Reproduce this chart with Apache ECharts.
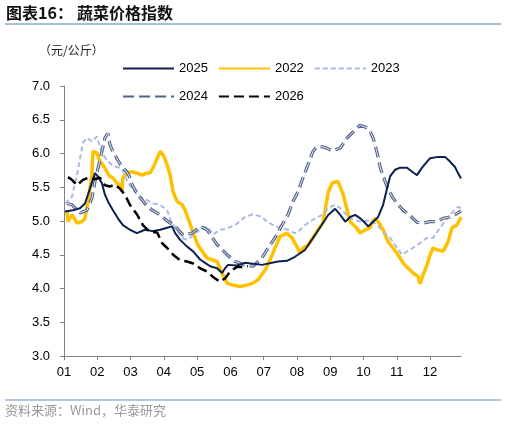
<!DOCTYPE html>
<html>
<head>
<meta charset="utf-8">
<script src="https://cdn.jsdelivr.net/npm/echarts@6/dist/echarts.min.js"></script>
<style>
  html, body { margin: 0; padding: 0; background: #fff; }
  #chart { width: 506px; height: 424px; }
</style>
</head>
<body>
<div id="chart"></div>
<script>
// x = 月份位置(0 = 1月初, 11 = 12月初), y = 元/公斤
var monthLabels = ['01','02','03','04','05','06','07','08','09','10','11','12'];

var s2025 = [[0.03,5.14],[0.09,5.16],[0.27,5.16],[0.48,5.19],[0.63,5.26],[0.78,5.48],[0.93,5.71],[1.02,5.66],[1.14,5.56],[1.23,5.39],[1.32,5.29],[1.47,5.16],[1.62,5.04],[1.77,4.94],[1.98,4.87],[2.19,4.82],[2.43,4.87],[2.65,4.85],[2.89,4.87],[3.10,4.90],[3.25,4.92],[3.34,4.82],[3.49,4.72],[3.70,4.62],[3.88,4.55],[4.09,4.43],[4.24,4.38],[4.39,4.33],[4.60,4.30],[4.75,4.23],[4.84,4.30],[4.93,4.35],[5.20,4.34],[5.44,4.38],[5.95,4.35],[6.43,4.40],[6.70,4.41],[6.94,4.47],[7.24,4.57],[7.54,4.79],[7.94,5.09],[8.15,5.18],[8.30,5.09],[8.45,4.99],[8.60,5.06],[8.75,5.09],[8.90,5.04],[9.05,4.97],[9.14,4.92],[9.29,4.99],[9.44,5.06],[9.59,5.24],[9.71,5.49],[9.80,5.66],[9.95,5.76],[10.10,5.79],[10.31,5.79],[10.46,5.73],[10.61,5.68],[10.76,5.79],[11.00,5.93],[11.24,5.95],[11.45,5.95],[11.60,5.88],[11.75,5.80],[11.84,5.71],[11.93,5.63]];

var s2022 = [[0.09,5.14],[0.12,4.99],[0.24,5.09],[0.39,4.97],[0.54,4.99],[0.63,5.04],[0.72,5.29],[0.84,5.68],[0.87,6.03],[0.99,6.01],[1.08,5.88],[1.17,5.83],[1.29,5.73],[1.38,5.66],[1.47,5.64],[1.59,5.56],[1.68,5.53],[1.74,5.46],[1.77,5.64],[1.89,5.71],[2.04,5.73],[2.19,5.71],[2.34,5.68],[2.49,5.71],[2.58,5.71],[2.68,5.79],[2.80,5.93],[2.89,6.03],[2.98,5.98],[3.10,5.83],[3.19,5.68],[3.28,5.43],[3.40,5.29],[3.55,5.24],[3.64,5.16],[3.73,5.04],[3.85,4.87],[3.94,4.75],[4.03,4.64],[4.09,4.62],[4.30,4.45],[4.60,4.40],[4.69,4.30],[4.78,4.20],[4.90,4.08],[5.08,4.05],[5.29,4.03],[5.50,4.05],[5.68,4.08],[5.83,4.13],[6.04,4.27],[6.19,4.42],[6.34,4.60],[6.49,4.77],[6.70,4.82],[6.85,4.75],[7.00,4.62],[7.09,4.52],[7.18,4.60],[7.33,4.64],[7.48,4.75],[7.63,4.87],[7.78,4.97],[7.84,5.14],[7.94,5.43],[8.06,5.56],[8.15,5.58],[8.24,5.58],[8.39,5.39],[8.51,5.16],[8.60,4.99],[8.75,4.92],[8.90,4.82],[9.05,4.87],[9.20,4.90],[9.26,4.99],[9.35,5.04],[9.44,4.99],[9.59,4.87],[9.74,4.69],[9.89,4.60],[10.04,4.50],[10.19,4.38],[10.34,4.30],[10.49,4.23],[10.64,4.18],[10.70,4.07],[10.79,4.20],[10.91,4.35],[11.00,4.50],[11.09,4.60],[11.24,4.57],[11.39,4.55],[11.54,4.69],[11.66,4.90],[11.81,4.94],[11.93,5.06]];

var s2023 = [[0.03,5.26],[0.24,5.36],[0.42,5.76],[0.57,6.16],[0.69,6.23],[0.84,6.18],[0.99,6.25],[1.14,6.01],[1.29,5.90],[1.44,5.83],[1.59,5.80],[1.74,5.78],[1.83,5.66],[1.98,5.53],[2.19,5.39],[2.37,5.34],[2.68,5.26],[2.89,5.24],[3.10,5.16],[3.19,5.02],[3.40,4.86],[3.58,4.74],[3.70,4.72],[3.88,4.79],[4.09,4.87],[4.30,4.92],[4.48,4.80],[4.69,4.87],[4.84,4.88],[5.14,4.94],[5.44,5.06],[5.68,5.10],[5.95,5.06],[6.10,4.99],[6.28,4.94],[6.49,4.90],[6.73,4.87],[6.94,4.82],[7.03,4.84],[7.24,4.94],[7.45,5.01],[7.75,5.09],[7.94,5.19],[8.15,5.24],[8.30,5.19],[8.39,5.14],[8.60,5.04],[8.90,4.99],[9.20,5.01],[9.41,4.94],[9.59,4.84],[9.80,4.75],[10.01,4.60],[10.16,4.50],[10.31,4.55],[10.61,4.64],[10.91,4.75],[11.09,4.75],[11.30,4.90],[11.51,5.04],[11.69,5.14],[11.84,5.21],[11.93,5.19]];

var s2024 = [[0.09,5.26],[0.24,5.24],[0.48,5.12],[0.69,5.16],[0.84,5.34],[0.93,5.58],[1.02,5.78],[1.14,6.03],[1.23,6.23],[1.32,6.30],[1.38,6.13],[1.47,6.03],[1.62,5.90],[1.74,5.80],[1.89,5.73],[1.98,5.64],[2.07,5.51],[2.22,5.39],[2.43,5.26],[2.65,5.16],[2.89,5.09],[3.13,4.99],[3.34,4.92],[3.58,4.79],[3.85,4.82],[4.09,4.92],[4.30,4.87],[4.60,4.65],[4.90,4.50],[5.14,4.40],[5.44,4.35],[5.68,4.33],[5.95,4.45],[6.13,4.60],[6.34,4.75],[6.55,4.94],[6.73,5.09],[6.88,5.29],[7.03,5.43],[7.18,5.64],[7.33,5.83],[7.48,6.03],[7.60,6.10],[7.75,6.10],[7.90,6.08],[8.06,6.04],[8.30,6.08],[8.51,6.23],[8.69,6.32],[8.90,6.42],[9.11,6.38],[9.20,6.32],[9.29,6.23],[9.41,6.01],[9.50,5.80],[9.59,5.66],[9.71,5.51],[9.86,5.36],[10.01,5.26],[10.19,5.16],[10.40,5.08],[10.61,4.98],[10.79,4.97],[11.00,4.99],[11.21,4.99],[11.39,5.04],[11.60,5.06],[11.81,5.11],[11.93,5.15]];

var s2026 = [[0.12,5.65],[0.24,5.61],[0.39,5.53],[0.57,5.61],[0.72,5.64],[0.93,5.62],[1.08,5.64],[1.23,5.53],[1.38,5.51],[1.53,5.54],[1.68,5.48],[1.83,5.39],[1.98,5.24],[2.19,5.10],[2.37,4.94],[2.58,4.84],[2.80,4.83],[2.95,4.67],[3.10,4.60],[3.28,4.50],[3.49,4.42],[3.70,4.40],[3.88,4.37],[4.09,4.30],[4.30,4.25],[4.48,4.17],[4.69,4.10],[4.84,4.15],[4.99,4.25],[5.20,4.32],[5.38,4.32],[5.53,4.33]];

var monthTicks = [0,1,2,3,4,5,6,7,8,9,10,11];
var latin = 'Liberation Sans, Arial, sans-serif';
var cjk = 'Noto Sans CJK SC, sans-serif';

var chart = echarts.init(document.getElementById('chart'), null, {renderer: 'canvas'});

function lineSeries(name, data, color, width, dash, z){
	return {
		name: name,
		type: 'line',
		data: data,
		symbol: 'none',
		z: z,
		lineStyle: {color: color, width: width, type: dash},
		itemStyle: {color: color}
	};
}

var series = [
	lineSeries('2022', s2022, '#ffc000', 3.5, 'solid', 2),
	lineSeries('2023', s2023, '#a9bbe4', 2, [5, 3], 3),
	lineSeries('2024', s2024, '#53648a', 3.2, [11, 5], 4),
	lineSeries('2024b', s2024, '#e4e9f2', 1, [11, 5], 5),	//2024 中间浅色
	lineSeries('2025', s2025, '#0d2150', 2, 'solid', 6),
	lineSeries('2026', s2026, '#000000', 2.5, [10, 5], 7)
];

var legendBase = {
	left: 117,
	itemWidth: 51,
	itemHeight: 14,
	itemGap: 10,
	itemStyle: {opacity: 0},	//图例只画线,不画点
	textStyle: {fontFamily: latin, fontSize: 13, color: '#000'}
};

var option = {
	animation: false,
	backgroundColor: '#fff',
	grid: {left: 64, right: 45, top: 86, bottom: 68},
	legend: [
		Object.assign({}, legendBase, {top: 57, data: ['2025', '2022', '2023']}),
		Object.assign({}, legendBase, {top: 85, data: ['2024', '2026']})
	],
	xAxis: {
		type: 'value',
		min: 0,
		max: 11.93,
		interval: 1,
		splitLine: {show: false},
		axisLine: {lineStyle: {color: '#808080', width: 1}},
		axisTick: {length: 4, lineStyle: {color: '#808080'}, customValues: monthTicks},
		axisLabel: {
			customValues: monthTicks,
			margin: 10,
			fontFamily: latin,
			fontSize: 13,
			color: '#000',
			formatter: function(v){ return monthLabels[Math.round(v)] || ''; }
		}
	},
	yAxis: {
		type: 'value',
		min: 3,
		max: 7,
		interval: 0.5,
		splitLine: {show: false},
		axisLine: {show: true, lineStyle: {color: '#808080', width: 1}},
		axisTick: {show: true, length: 4, lineStyle: {color: '#808080'}},
		axisLabel: {
			margin: 14,
			fontFamily: latin,
			fontSize: 13,
			color: '#000',
			formatter: function(v){ return v.toFixed(1); }
		}
	},
	graphic: [
		{type: 'text', left: 6, top: 5, style: {text: '图表16：', font: 'bold 16px ' + cjk, fill: '#111'}},
		{type: 'text', left: 77, top: 5, style: {text: '蔬菜价格指数', font: 'bold 16px ' + cjk, fill: '#111'}},
		{type: 'line', shape: {x1: 5, y1: 24, x2: 501, y2: 24}, style: {stroke: '#8ea6c8', lineWidth: 1.5}},
		{type: 'text', left: 39, top: 44, style: {text: '（元/公斤）', font: '12px ' + cjk, fill: '#222', letterSpacing: 1}},
		{type: 'line', shape: {x1: 5, y1: 400, x2: 501, y2: 400}, style: {stroke: '#b7c7da', lineWidth: 2}},
		{type: 'text', left: 5, top: 404, style: {text: '资料来源：Wind，华泰研究', font: '13px ' + cjk, fill: '#9a9a9a', letterSpacing: 0.7}}
	],
	series: series
};

chart.setOption(option);
</script>
</body>
</html>
